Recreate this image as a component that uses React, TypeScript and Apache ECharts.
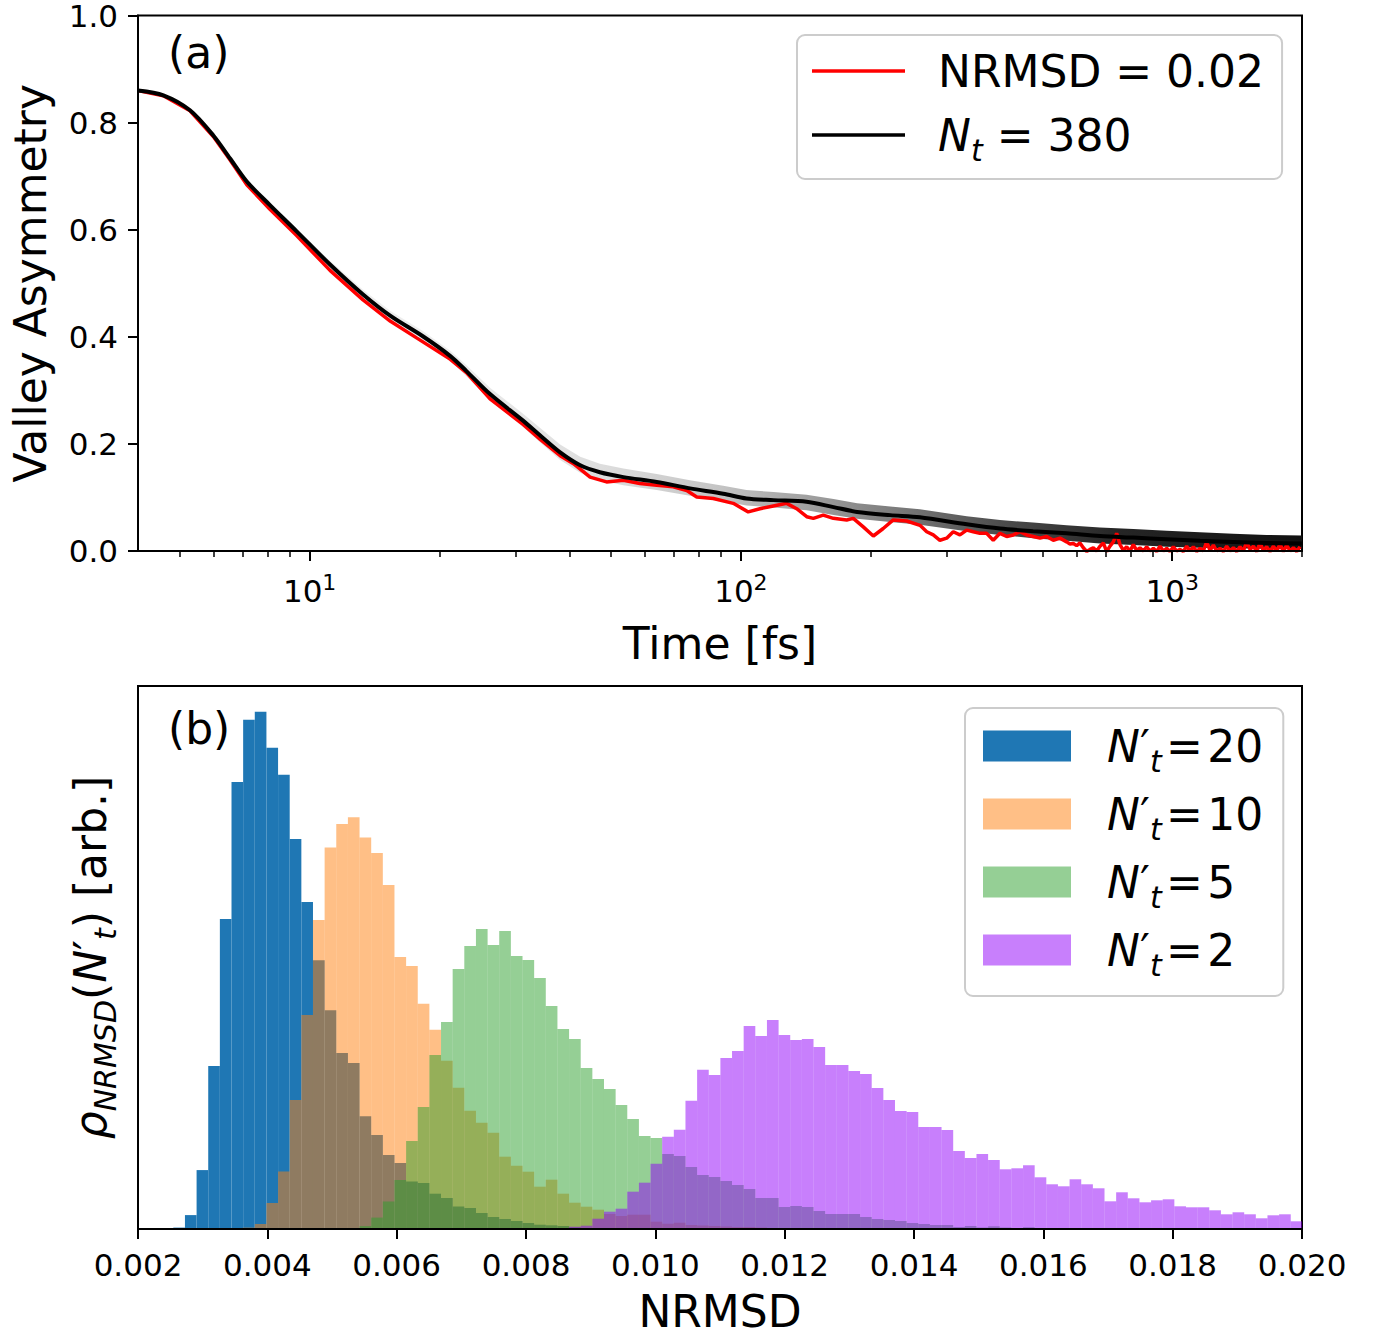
import React, { useEffect, useRef } from "react";
import * as echarts from "echarts";

const FONT = "DejaVu Sans";

// ---------------- Panel (a): valley asymmetry vs time ----------------
const timeBlack = [4, 4.58, 5.28, 5.98, 6.54, 7.15, 8.09, 9.33, 11.15, 13.3, 15.4, 18.3, 21.2, 23.1, 26.2, 31.3, 34.2, 38.1, 42.4, 47.1, 53.4, 63.8, 76.2, 91, 103, 119, 142, 164, 186, 222, 260, 334, 399, 476, 569, 680, 813, 971, 1160, 1386, 1656, 2000];
const valBlack = [0.860, 0.851, 0.823, 0.776, 0.733, 0.690, 0.646, 0.597, 0.535, 0.479, 0.439, 0.401, 0.364, 0.336, 0.293, 0.243, 0.216, 0.184, 0.160, 0.147, 0.138, 0.129, 0.117, 0.107, 0.098, 0.095, 0.092, 0.082, 0.073, 0.067, 0.063, 0.050, 0.042, 0.037, 0.033, 0.028, 0.025, 0.022, 0.019, 0.017, 0.015, 0.014];

const timeRed = [4, 4.58, 5.28, 5.98, 6.54, 7.15, 8.09, 9.33, 11.15, 13.3,
  15.4, 17.7, 21.2, 23.1, 26.2, 31.3, 34.2, 38.1, 40.9, 44.7,
  48.8, 53.4, 58.3, 63.8, 69.7, 74.9, 79.0, 86.3, 96.0, 104,
  110.7, 118.9, 127.7, 134.7, 142.1, 147.2, 155.2, 163.8, 175.9, 182.2,
  192.2, 202.8, 213.8, 225.6, 242.3, 260.2, 269.7, 279.3, 289.4, 300,
  310.7, 322, 333.8, 345.8, 358.3, 371.4, 384.7, 398.7, 413.3, 428.1,
  443.7, 459.8, 476.4, 493.7, 511.7, 530.1, 549.3,
  569.3, 579.5, 589.9, 600.5, 611.3, 622.3, 633.5, 644.9, 656.4, 668.2,
  680.2, 692.4, 704.9, 717.5, 730.4, 743.5, 756.9, 770.5, 784.3, 798.4,
  812.7, 827.3, 842.2, 857.3, 872.7, 888.4, 904.3, 920.6, 937.1, 954,
  971.1, 988.5, 1006.3, 1024.3, 1042.7, 1061.5, 1080.5, 1099.9, 1119.7, 1139.8,
  1160.3, 1181.1, 1202.3, 1223.9, 1245.9, 1268.3, 1291, 1314.2, 1337.8, 1361.9,
  1386.3, 1411.2, 1436.6, 1462.4, 1488.6, 1515.4, 1542.6, 1570.3, 1598.5, 1627.2,
  1656.4, 1686.2, 1716.4, 1747.3, 1778.7, 1810.6, 1843.1, 1876.2, 1909.9, 1944.2,
  1979.1];
const valRed = [0.860, 0.850, 0.822, 0.774, 0.730, 0.684, 0.638, 0.589, 0.524, 0.469,
  0.429, 0.398, 0.358, 0.333, 0.284, 0.236, 0.209, 0.178, 0.163, 0.138,
  0.129, 0.132, 0.126, 0.123, 0.120, 0.113, 0.101, 0.098, 0.089, 0.073,
  0.079, 0.084, 0.089, 0.079, 0.064, 0.061, 0.067, 0.061, 0.058, 0.061,
  0.045, 0.028, 0.042, 0.058, 0.056, 0.048, 0.036, 0.030, 0.020, 0.024,
  0.036, 0.030, 0.039, 0.036, 0.033, 0.033, 0.020, 0.033, 0.027, 0.030,
  0.036, 0.030, 0.027, 0.024, 0.027, 0.020, 0.024,
  0.017, 0.013, 0.014, 0.010, 0.015, 0.006, -0.001, 0.003, 0.006, 0.000,
  0.009, 0.015, -0.001, 0.009, 0.017, 0.033, 0.012, 0.001, 0.008, 0.000,
  0.012, 0.001, 0.006, 0.000, 0.008, 0.000, 0.005, -0.001, 0.009, 0.000,
  0.005, -0.001, 0.008, 0.000, 0.003, -0.001, 0.009, 0.000, 0.008, -0.001,
  0.005, 0.000, 0.017, 0.001, 0.011, 0.000, 0.005, -0.001, 0.009, 0.000,
  0.006, -0.001, 0.008, 0.000, 0.017, 0.003, 0.009, -0.001, 0.015, 0.001,
  0.008, -0.001, 0.009, 0.000, 0.013, -0.001, 0.011, 0.000, 0.006, -0.001,
  0.008];

// spread of the individual runs (grey band), sampled at the same times as the black curve
const bandTime = timeBlack;
const bandLow = [0.858, 0.849, 0.821, 0.773, 0.729, 0.686, 0.641, 0.591, 0.528, 0.471, 0.431, 0.392, 0.355, 0.326, 0.282, 0.231, 0.203, 0.170, 0.146, 0.132, 0.123, 0.114, 0.103, 0.093, 0.085, 0.081, 0.076, 0.067, 0.060, 0.054, 0.049, 0.037, 0.030, 0.024, 0.019, 0.014, 0.011, 0.008, 0.006, 0.005, 0.004, 0.004];
const bandHigh = [0.862, 0.853, 0.825, 0.779, 0.737, 0.694, 0.651, 0.603, 0.542, 0.488, 0.448, 0.411, 0.374, 0.347, 0.305, 0.256, 0.230, 0.199, 0.176, 0.163, 0.154, 0.144, 0.132, 0.122, 0.114, 0.110, 0.105, 0.097, 0.089, 0.083, 0.078, 0.065, 0.058, 0.053, 0.048, 0.044, 0.041, 0.038, 0.035, 0.032, 0.030, 0.029];

const majorTickTimes = [10, 100, 1000];
const minorTickTimes = [5, 6, 7, 8, 9, 20, 30, 40, 50, 60, 70, 80, 90, 200, 300, 400, 500, 600, 700, 800, 900, 2000];
const yTicksA = [0, 0.2, 0.4, 0.6, 0.8, 1.0];

// ---------------- Panel (b): NRMSD histograms ----------------
const binStart = 0.002546;
const binWidth = 0.00018;
const nrmsdTicks = [0.002, 0.004, 0.006, 0.008, 0.010, 0.012, 0.014, 0.016, 0.018, 0.020];

const hist20First = 0;
const hist20 = [1.4, 13.9, 58.9, 162.9, 310, 446.9, 509, 517, 481.2, 454, 390, 326.8, 268.8, 218.8, 176, 166, 112.8, 93.9, 73.9, 66, 47.5, 46, 35.3, 31, 22.5, 21, 16, 12, 10, 7.9, 6, 4.3, 3.7, 3, 1.5, 1, 0.6, 0.4, 0.3, 0.2, 0.1];
const hist10First = 6;
const hist10 = [1.4, 5, 26, 57.5, 128.9, 214, 309, 381.3, 404.8, 411.6, 391.3, 375.9, 343.8, 272, 263, 225.3, 199.3, 168.3, 141.3, 118.3, 106.3, 96.3, 72.3, 63.3, 57.3, 42.3, 49.3, 35.3, 26.3, 22.3, 19.3, 15, 13, 14.3, 14.3, 7.3, 5.3, 6.3, 4, 3.5, 3, 2.5, 2, 2, 1.5, 1, 1, 0.7, 0.5, 0.4, 0.3];
const hist5First = 15;
const hist5 = [0.5, 2.9, 11.4, 27.5, 49, 88, 122, 174, 207, 260, 283, 300, 284, 298, 273, 269, 251, 223, 200, 190, 161, 150, 140, 124, 110, 93, 91, 75, 73, 62, 54, 52, 48, 44, 40, 31, 31, 22, 23, 22, 18, 15, 15, 15, 12, 10, 9, 8, 6, 5, 4, 4, 2, 3, 1.5, 2.7, 1.5, 1, 1.7, 1, 1, 1, 1, 0.8, 0.5, 0.5];
const hist2First = 33;
const hist2 = [0.7, 2.3, 3.3, 10.3, 17.3, 20.3, 37.3, 46.3, 65.3, 92.3, 99.3, 128.3, 159.3, 154, 171, 178, 203, 193, 209, 194, 189, 190, 182, 164, 164, 158, 155, 141, 129, 118, 117, 102, 102, 99, 78, 71, 75, 69, 59.7, 60.7, 63.7, 51.7, 44.7, 42.7, 49.7, 44.7, 40.7, 27.7, 36.7, 30.7, 26.7, 28.7, 29.7, 22.7, 21.7, 21.7, 18.7, 14.7, 16.7, 14.7, 10.7, 13.7, 14.7, 7.7];

const histNames = ["N't=20", "N't=10", "N't=5", "N't=2"];
const histLabels = ["20", "10", "5", "2"];

// ---------------- styles ----------------
const C_BLUE = "#1f77b4";
const C_ORANGE = "rgba(255,127,14,0.5)";
const C_GREEN = "rgba(44,160,44,0.5)";
const C_PURPLE = "rgba(145,0,250,0.5)";

const richMath = (main: number, sub: number, lh: number, gap: number) => ({
  n: { fontSize: main, fontFamily: FONT, color: "#000", lineHeight: lh, verticalAlign: "middle" },
  i: { fontSize: main, fontFamily: FONT, fontStyle: "italic", color: "#000", lineHeight: lh, verticalAlign: "middle" },
  sub: { fontSize: sub, fontFamily: FONT, fontStyle: "italic", color: "#000", lineHeight: lh, verticalAlign: "bottom" },
  p: { fontSize: main, fontFamily: FONT, color: "#000", lineHeight: lh, verticalAlign: "middle" },
  sp: { width: gap, lineHeight: lh, fontSize: main },
});

function histData(vals: number[], first: number) {
  return vals.map((h, j) => {
    const k = first + j;
    return [binStart + k * binWidth, Math.min(binStart + (k + 1) * binWidth, 0.02), h];
  });
}

function histSeries(name: string, vals: number[], first: number, color: string) {
  return {
    type: "custom",
    name,
    xAxisIndex: 2,
    yAxisIndex: 1,
    clip: true,
    silent: true,
    itemStyle: { color },
    encode: { x: [0, 1], y: 2 },
    data: histData(vals, first),
    renderItem: (_params: any, api: any) => {
      const p0 = api.coord([api.value(0), 0]);
      const p1 = api.coord([api.value(1), api.value(2)]);
      return {
        type: "rect",
        shape: { x: p0[0], y: p1[1], width: p1[0] - p0[0], height: p0[1] - p1[1] },
        style: { fill: color },
      };
    },
  };
}

export default function App() {
  const ref = useRef<HTMLDivElement>(null);

  useEffect(() => {
    if (!ref.current) return;
    const chart = echarts.init(ref.current, null, { renderer: "svg" });

    const histMax = Math.max(...hist20, ...hist10, ...hist5, ...hist2) * 1.05;

    const bandGradient = new echarts.graphic.LinearGradient(0, 0, 1, 0, [
      { offset: 0, color: "#f3f3f3" },
      { offset: 0.27, color: "#ececec" },
      { offset: 0.4, color: "#dddddd" },
      { offset: 0.5, color: "#c4c4c4" },
      { offset: 0.58, color: "#9e9e9e" },
      { offset: 0.66, color: "#777777" },
      { offset: 0.74, color: "#4d4d4d" },
      { offset: 0.84, color: "#262626" },
      { offset: 1, color: "#111111" },
    ]);

    const tickLabelStyle = { fontSize: 31, fontFamily: FONT, color: "#000" };

    const option: any = {
      animation: false,
      backgroundColor: "#ffffff",
      textStyle: { fontFamily: FONT },
      grid: [
        { left: 138, top: 13, width: 1164, height: 538, show: true, borderColor: "#000", borderWidth: 2, backgroundColor: "transparent" },
        { left: 138, top: 686, width: 1164, height: 543, show: true, borderColor: "#000", borderWidth: 2, backgroundColor: "transparent" },
      ],
      xAxis: [
        {
          type: "log", logBase: 10, gridIndex: 0, min: 4, max: 2000, z: 5,
          axisLine: { show: true, onZero: false, lineStyle: { color: "#000", width: 2 } },
          axisTick: { show: true, length: 10, customValues: majorTickTimes, lineStyle: { color: "#000", width: 2 } },
          axisLabel: {
            customValues: majorTickTimes,
            margin: 20,
            formatter: (v: number) => `{b|10}{s|${Math.round(Math.log10(v))}}`,
            rich: {
              b: { fontSize: 31, fontFamily: FONT, color: "#000", lineHeight: 35, verticalAlign: "bottom" },
              s: { fontSize: 22, fontFamily: FONT, color: "#000", lineHeight: 35, verticalAlign: "top" },
            },
          },
          splitLine: { show: false },
          name: "Time [fs]", nameLocation: "middle", nameGap: 70,
          nameTextStyle: { fontSize: 44, fontFamily: FONT, color: "#000" },
        },
        {
          type: "log", logBase: 10, gridIndex: 0, min: 4, max: 2000, position: "bottom", z: 5,
          axisLine: { show: false },
          axisLabel: { show: false },
          axisTick: { show: true, length: 6, customValues: minorTickTimes, lineStyle: { color: "#000", width: 1.5 } },
          splitLine: { show: false },
        },
        {
          type: "value", gridIndex: 1, min: 0.002, max: 0.02, interval: 0.002, z: 5,
          axisLine: { show: true, onZero: false, lineStyle: { color: "#000", width: 2 } },
          axisTick: { show: true, length: 10, customValues: nrmsdTicks, lineStyle: { color: "#000", width: 2 } },
          axisLabel: { ...tickLabelStyle, margin: 20, customValues: nrmsdTicks, formatter: (v: number) => v.toFixed(3) },
          splitLine: { show: false },
          name: "NRMSD", nameLocation: "middle", nameGap: 64,
          nameTextStyle: { fontSize: 44, lineHeight: 36, fontFamily: FONT, color: "#000" },
        },
      ],
      yAxis: [
        {
          type: "value", gridIndex: 0, min: 0, max: 1, interval: 0.2, z: 5,
          axisLine: { show: true, onZero: false, lineStyle: { color: "#000", width: 2 } },
          axisTick: { show: true, length: 10, customValues: yTicksA, lineStyle: { color: "#000", width: 2 } },
          axisLabel: { ...tickLabelStyle, lineHeight: 24, margin: 20, formatter: (v: number) => v.toFixed(1) },
          splitLine: { show: false },
          name: "Valley Asymmetry", nameLocation: "middle", nameGap: 86,
          nameTextStyle: { fontSize: 44, fontFamily: FONT, color: "#000" },
        },
        {
          type: "value", gridIndex: 1, min: 0, max: histMax, z: 5,
          axisLine: { show: true, onZero: false, lineStyle: { color: "#000", width: 2 } },
          axisTick: { show: false },
          axisLabel: { show: false },
          splitLine: { show: false },
          name: "{i|ρ}{sub|NRMSD}{n|(}{i|N}{p|′}{sub|t}{n|) [arb.]}",
          nameLocation: "middle", nameGap: 18,
          nameTextStyle: { fontSize: 44, fontFamily: FONT, color: "#000", rich: richMath(44, 30, 60, 0) },
        },
      ],
      legend: [
        {
          orient: "vertical", left: 797, top: 35,
          selectedMode: false,
          data: [
            { name: "NRMSD = 0.02", icon: "rect" },
            { name: "N_t = 380", icon: "rect" },
          ],
          itemWidth: 93, itemHeight: 3.5, itemGap: 20,
          padding: [14, 18, 14, 15],
          backgroundColor: "rgba(255,255,255,0.8)",
          borderColor: "#cccccc", borderWidth: 2, borderRadius: 8,
          formatter: (name: string) =>
            name === "N_t = 380" ? "{sp| }{i|N}{sub|t}{n| = 380}" : "{sp| }{n|NRMSD = 0.02}",
          textStyle: { fontSize: 44, fontFamily: FONT, color: "#000", rich: richMath(44, 30, 60, 28) },
        },
        {
          orient: "vertical", left: 965, top: 708,
          selectedMode: false,
          data: histNames.map((n) => ({ name: n, icon: "rect" })),
          itemWidth: 88, itemHeight: 31, itemGap: 16,
          padding: [16, 20, 16, 18],
          backgroundColor: "rgba(255,255,255,0.8)",
          borderColor: "#cccccc", borderWidth: 2, borderRadius: 8,
          formatter: (name: string) => {
            const idx = histNames.indexOf(name);
            return `{sp| }{i|N}{p|′}{sub|t}{n|\u200A=\u200A${histLabels[idx]}}`;
          },
          textStyle: { fontSize: 44, fontFamily: FONT, color: "#000", rich: richMath(44, 30, 60, 31) },
        },
      ],
      graphic: [
        { type: "text", x: 168, y: 52, silent: true, style: { text: "(a)", font: `44px "${FONT}"`, fill: "#000", verticalAlign: "middle" } },
        { type: "text", x: 168, y: 728, silent: true, style: { text: "(b)", font: `44px "${FONT}"`, fill: "#000", verticalAlign: "middle" } },
      ],
      series: [
        {
          type: "custom", name: "_band", xAxisIndex: 0, yAxisIndex: 0, silent: true, clip: true,
          data: bandTime.map((t, i) => [t, bandLow[i], bandHigh[i]]),
          encode: { x: 0, y: [1, 2] },
          renderItem: (params: any, api: any) => {
            if (params.dataIndex !== 0) return null;
            const upper = bandTime.map((t, i) => api.coord([t, bandHigh[i]]));
            const lower = bandTime.map((t, i) => api.coord([t, bandLow[i]])).reverse();
            return {
              type: "polygon",
              shape: { points: upper.concat(lower) },
              style: { fill: bandGradient },
            };
          },
        },
        {
          type: "line", name: "NRMSD = 0.02", xAxisIndex: 0, yAxisIndex: 0,
          data: timeRed.map((t, i) => [t, valRed[i]]),
          symbol: "none", color: "#ff0000",
          lineStyle: { color: "#ff0000", width: 3.5 },
          clip: true,
        },
        {
          type: "line", name: "N_t = 380", xAxisIndex: 0, yAxisIndex: 0,
          data: timeBlack.map((t, i) => [t, valBlack[i]]),
          symbol: "none", smooth: 0.3, color: "#000000",
          lineStyle: { color: "#000000", width: 4 },
          clip: true,
        },
        histSeries(histNames[0], hist20, hist20First, C_BLUE),
        histSeries(histNames[1], hist10, hist10First, C_ORANGE),
        histSeries(histNames[2], hist5, hist5First, C_GREEN),
        histSeries(histNames[3], hist2, hist2First, C_PURPLE),
      ],
    };

    chart.setOption(option);
    return () => chart.dispose();
  }, []);

  return (
    <div
      ref={ref}
      style={{ position: "fixed", left: 0, top: 0, width: 1379, height: 1334, background: "#ffffff" }}
    />
  );
}
